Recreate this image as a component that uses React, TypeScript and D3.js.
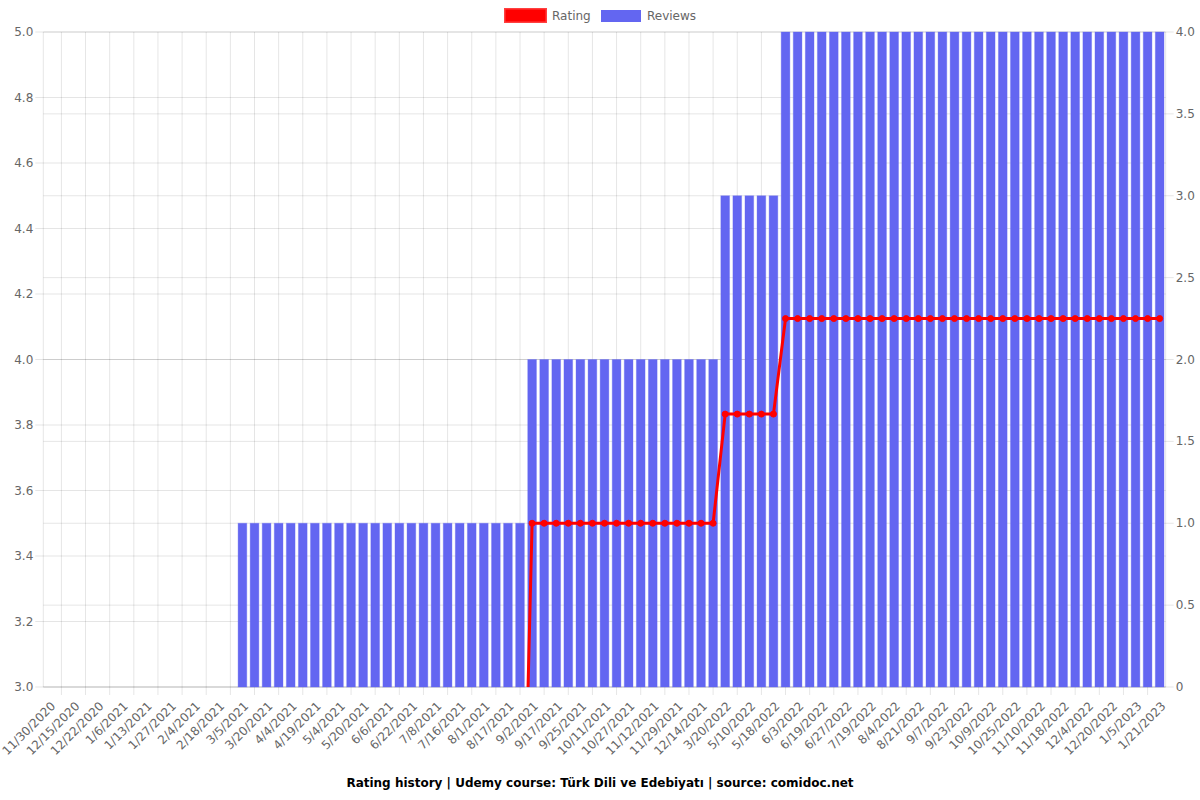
import React from "react";
import * as d3 from "d3";

const dates: string[] = [
  "11/30/2020", "12/7/2020", "12/15/2020", "12/18/2020", "12/22/2020", "12/29/2020",
  "1/6/2021", "1/9/2021", "1/13/2021", "1/20/2021", "1/27/2021", "1/31/2021",
  "2/4/2021", "2/11/2021", "2/18/2021", "2/26/2021", "3/5/2021", "3/12/2021",
  "3/20/2021", "3/27/2021", "4/4/2021", "4/11/2021", "4/19/2021", "4/26/2021",
  "5/4/2021", "5/12/2021", "5/20/2021", "5/28/2021", "6/6/2021", "6/14/2021",
  "6/22/2021", "6/30/2021", "7/8/2021", "7/12/2021", "7/16/2021", "7/24/2021",
  "8/1/2021", "8/9/2021", "8/17/2021", "8/25/2021", "9/2/2021", "9/9/2021",
  "9/17/2021", "9/21/2021", "9/25/2021", "10/3/2021", "10/11/2021", "10/19/2021",
  "10/27/2021", "11/4/2021", "11/12/2021", "11/20/2021", "11/29/2021", "12/6/2021",
  "12/14/2021", "2/5/2022", "3/20/2022", "4/14/2022", "5/10/2022", "5/14/2022",
  "5/18/2022", "5/26/2022", "6/3/2022", "6/11/2022", "6/19/2022", "6/23/2022",
  "6/27/2022", "7/8/2022", "7/19/2022", "7/27/2022", "8/4/2022", "8/12/2022",
  "8/21/2022", "8/29/2022", "9/7/2022", "9/15/2022", "9/23/2022", "10/1/2022",
  "10/9/2022", "10/17/2022", "10/25/2022", "11/2/2022", "11/10/2022", "11/14/2022",
  "11/18/2022", "11/26/2022", "12/4/2022", "12/12/2022", "12/20/2022", "12/28/2022",
  "1/5/2023", "1/13/2023", "1/21/2023",
];

const reviews: number[] = [
  0, 0, 0, 0, 0, 0, 0, 0, 0, 0, 0, 0, 0, 0, 0, 0,
  1, 1, 1, 1, 1, 1, 1, 1, 1, 1, 1, 1, 1, 1, 1, 1, 1, 1, 1, 1, 1, 1, 1, 1,
  2, 2, 2, 2, 2, 2, 2, 2, 2, 2, 2, 2, 2, 2, 2, 2,
  3, 3, 3, 3, 3,
  4, 4, 4, 4, 4, 4, 4, 4, 4, 4, 4, 4, 4, 4, 4, 4, 4, 4, 4, 4, 4, 4, 4, 4, 4, 4, 4, 4, 4, 4, 4, 4,
];

const ratings: number[] = [
  0, 0, 0, 0, 0, 0, 0, 0, 0, 0, 0, 0, 0, 0, 0, 0,
  2, 2, 2, 2, 2, 2, 2, 2, 2, 2, 2, 2, 2, 2, 2, 2, 2, 2, 2, 2, 2, 2, 2, 2,
  3.5, 3.5, 3.5, 3.5, 3.5, 3.5, 3.5, 3.5, 3.5, 3.5, 3.5, 3.5, 3.5, 3.5, 3.5, 3.5,
  3.8333, 3.8333, 3.8333, 3.8333, 3.8333,
  4.125, 4.125, 4.125, 4.125, 4.125, 4.125, 4.125, 4.125, 4.125, 4.125, 4.125, 4.125, 4.125, 4.125, 4.125, 4.125,
  4.125, 4.125, 4.125, 4.125, 4.125, 4.125, 4.125, 4.125, 4.125, 4.125, 4.125, 4.125, 4.125, 4.125, 4.125, 4.125,
];

const leftTicks: number[] = [3.0, 3.2, 3.4, 3.6, 3.8, 4.0, 4.2, 4.4, 4.6, 4.8, 5.0];
const rightTicks: number[] = [0, 0.5, 1.0, 1.5, 2.0, 2.5, 3.0, 3.5, 4.0];
const titleText = "Rating history | Udemy course: Türk Dili ve Edebiyatı | source: comidoc.net";

const W = 1200;
const H = 800;
const L = 43.3;
const R = 1165.7;
const T = 32;
const B = 687;
const FONT = "'DejaVu Sans', sans-serif";
const GRID = "rgba(0,0,0,0.1)";
const TXT = "#666";
const BLUE = "rgb(99,102,241)";

export default function App() {
  const idx = dates.map((_, i) => i);
  const x = d3.scaleBand<number>().domain(idx).range([L, R]).paddingInner(0).paddingOuter(0);
  const bw = x.bandwidth();
  const cx = (i: number) => (x(i) as number) + bw / 2;
  const yL = d3.scaleLinear().domain([3, 5]).range([B, T]);
  const yR = d3.scaleLinear().domain([0, 4]).range([B, T]);
  const barW = bw * 0.72;

  const line = d3
    .line<number>()
    .x((_, i) => cx(i))
    .y((d) => yL(d));

  const shownTicks = idx.filter((i) => i % 2 === 0);
  const gridXs = shownTicks.slice(1).map((i) => cx(i) - (cx(i) - cx(i - 2)) / 2);

  return (
    <svg
      width={W}
      height={H}
      style={{ position: "absolute", left: 0, top: 0, background: "#fff" }}
      fontFamily={FONT}
    >
      <defs>
        <clipPath id="area">
          <rect x={L} y={T - 2} width={R - L} height={B - T + 2} />
        </clipPath>
      </defs>

      {leftTicks.map((t) => (
        <line key={"gl" + t} x1={L - 8} x2={R} y1={yL(t)} y2={yL(t)} stroke={GRID} strokeWidth={1} />
      ))}
      {rightTicks.map((t) => (
        <line key={"gr" + t} x1={L} x2={R + 8} y1={yR(t)} y2={yR(t)} stroke={GRID} strokeWidth={1} />
      ))}
      {gridXs.map((gx, k) => (
        <line key={"gx" + k} x1={gx} x2={gx} y1={T} y2={B + 8} stroke={GRID} strokeWidth={1} />
      ))}
      <line x1={L} x2={L} y1={T} y2={B} stroke={GRID} />
      <line x1={R} x2={R} y1={T} y2={B} stroke={GRID} />
      <line x1={L} x2={R} y1={B} y2={B} stroke={GRID} />

      {reviews.map((v, i) =>
        v > 0 ? (
          <rect
            key={"b" + i}
            x={cx(i) - barW / 2}
            y={yR(v)}
            width={barW}
            height={yR(0) - yR(v)}
            fill={BLUE}
            stroke="rgba(99,102,241,0.35)"
            strokeWidth={1}
          />
        ) : null
      )}

      <g clipPath="url(#area)">
        <path d={line(ratings) || ""} fill="none" stroke="red" strokeWidth={3} strokeLinejoin="round" />
        {ratings.map((v, i) => (
          <circle key={"p" + i} cx={cx(i)} cy={yL(v)} r={3} fill="red" stroke="red" strokeWidth={1} />
        ))}
      </g>

      {leftTicks.map((t) => (
        <text key={"tl" + t} x={L - 10} y={yL(t)} textAnchor="end" dominantBaseline="central" fontSize={12} fill={TXT}>
          {t.toFixed(1)}
        </text>
      ))}
      {rightTicks.map((t) => (
        <text key={"tr" + t} x={R + 10} y={yR(t)} textAnchor="start" dominantBaseline="central" fontSize={12} fill={TXT}>
          {t === 0 ? "0" : t.toFixed(1)}
        </text>
      ))}
      {shownTicks.map((i) => {
        const ax = cx(i) + 4;
        const ay = B + 17;
        return (
          <text
            key={"xl" + i}
            x={ax}
            y={ay}
            transform={`rotate(-45 ${ax} ${ay})`}
            textAnchor="end"
            dominantBaseline="central"
            fontSize={12}
            fill={TXT}
          >
            {dates[i]}
          </text>
        );
      })}

      <rect x={505.5} y={9.5} width={40} height={12} fill="red" stroke="rgba(255,0,0,0.75)" strokeWidth={3} />
      <text x={552} y={16} dominantBaseline="central" fontSize={12} fill={TXT}>
        Rating
      </text>
      <rect x={601} y={10} width={40} height={12} fill={BLUE} />
      <text x={647} y={16} dominantBaseline="central" fontSize={12} fill={TXT}>
        Reviews
      </text>

      <text x={W / 2} y={783} textAnchor="middle" dominantBaseline="central" fontSize={12} fontWeight="bold" fill="#000">
        {titleText}
      </text>
    </svg>
  );
}
